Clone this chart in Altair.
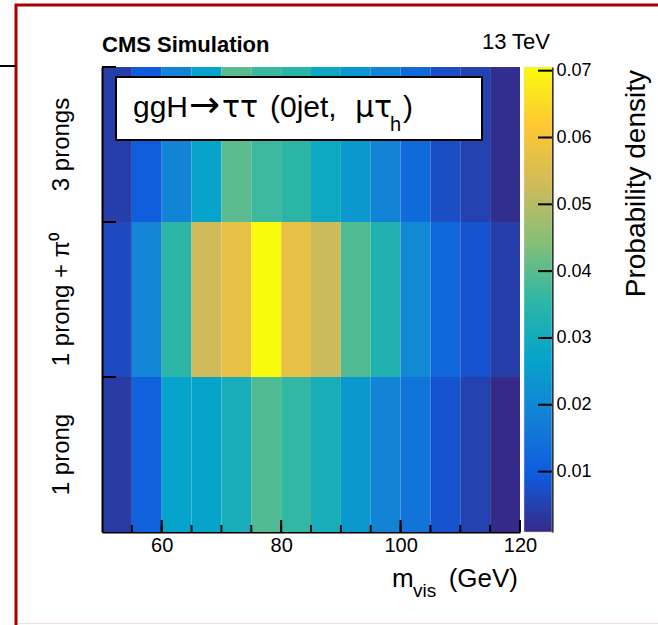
import altair as alt
import pandas as pd

# Visible-mass bins (GeV): lower edges, 5 GeV wide
m_lo = [50, 55, 60, 65, 70, 75, 80, 85, 90, 95, 100, 105, 110, 115]
bin_width = 5

# Tau decay modes (top to bottom)
rows = ["3 prongs", "1 prong + π⁰", "1 prong"]

# Probability density per bin and decay mode
dens_3prong = [0.0044, 0.0100, 0.0190, 0.0270, 0.0400, 0.0370, 0.0350,
               0.0290, 0.0240, 0.0190, 0.0130, 0.0072, 0.0050, 0.0017]
dens_1prong_pi0 = [0.0065, 0.0195, 0.0355, 0.0530, 0.0575, 0.0705, 0.0575,
                   0.0525, 0.0390, 0.0330, 0.0205, 0.0120, 0.0080, 0.0045]
dens_1prong = [0.0040, 0.0110, 0.0270, 0.0270, 0.0310, 0.0390, 0.0360,
               0.0310, 0.0240, 0.0190, 0.0150, 0.0080, 0.0050, 0.0010]

# Colour axis range and ticks
z_min, z_max = 0.00096, 0.07055
z_ticks = [0.01, 0.02, 0.03, 0.04, 0.05, 0.06, 0.07]

# Axis tick positions
x_labels = [60, 80, 100, 120]
x_minor = [55, 60, 65, 70, 75, 80, 85, 90, 95, 100, 105, 110, 115]
x_major = [60, 80, 100, 120]

# ROOT "bird" palette
palette = ["#352a87", "#0f5cdd", "#1481d6", "#06a4ca", "#2eb7a4",
           "#87bf77", "#d1bb59", "#fec832", "#f9fb0e"]

FONT = "Liberation Sans"
SYM = "DejaVu Sans"
W, H = 418, 465

records = []
for name, vals in zip(rows, [dens_3prong, dens_1prong_pi0, dens_1prong]):
    for lo, v in zip(m_lo, vals):
        records.append({"decay": name, "lo": lo, "hi": lo + bin_width, "p": v})
cells = pd.DataFrame(records)

x_scale = alt.Scale(domain=[50, 120], nice=False, zero=False)
x_axis = alt.Axis(values=x_labels, ticks=False, tickSize=0, labelFontSize=20,
                  labelPadding=3, labelFlush=False, labelFont=FONT,
                  labelColor="black", domainColor="black", domainWidth=2,
                  grid=False, title=None)
y_scale = alt.Scale(domain=rows, paddingInner=0, paddingOuter=0)

heat = alt.Chart(cells).mark_rect().encode(
    x=alt.X("lo:Q", scale=x_scale, axis=x_axis),
    x2="hi:Q",
    y=alt.Y("decay:N", sort=rows, scale=y_scale,
            axis=alt.Axis(orient="left", labelAngle=-90, labelAlign="center",
                          labelBaseline="alphabetic", labelFontSize=24,
                          labelFont=FONT, labelColor="black", labelPadding=34,
                          ticks=False, tickSize=0, domainColor="black",
                          domainWidth=2, title=None, grid=False)),
    color=alt.Color("p:Q", legend=None,
                    scale=alt.Scale(domain=[z_min, z_max], range=palette,
                                    interpolate="rgb")),
)

# Inward tick marks on the y axis at the decay-mode boundaries
y_ticks = alt.Chart(pd.DataFrame({"decay": rows})).mark_rule(
    color="black", strokeWidth=2).encode(
    y=alt.Y("decay:N", sort=rows, scale=y_scale, axis=None, bandPosition=0),
    x=alt.value(0), x2=alt.value(14),
)

# Inward tick marks on the x axis
minor = alt.Chart(pd.DataFrame({"lo": x_minor})).mark_rule(
    color="black", strokeWidth=2).encode(
    x=alt.X("lo:Q", scale=x_scale, axis=x_axis),
    y=alt.value(H), y2=alt.value(H - 7),
)
major = alt.Chart(pd.DataFrame({"lo": x_major})).mark_rule(
    color="black", strokeWidth=2).encode(
    x=alt.X("lo:Q", scale=x_scale, axis=x_axis),
    y=alt.value(H), y2=alt.value(H - 12),
)

# Colour bar
bar = alt.Chart(pd.DataFrame({"k": [0]})).mark_rect(
    fill=alt.Gradient(
        gradient="linear", x1=0, y1=1, x2=0, y2=0,
        stops=[alt.GradientStop(color=c, offset=i / (len(palette) - 1))
               for i, c in enumerate(palette)]),
    stroke="#d8d8d8", strokeWidth=0.5,
).encode(x=alt.value(422), x2=alt.value(450), y=alt.value(0), y2=alt.value(H))

bar_ticks = alt.Chart(pd.DataFrame({"z": z_ticks})).mark_rule(
    color="black", strokeWidth=2).encode(
    y=alt.Y("z:Q", scale=alt.Scale(domain=[z_min, z_max], nice=False, zero=False),
            axis=alt.Axis(orient="right", offset=32, values=z_ticks, format=".2f",
                          ticks=False, tickSize=0, labelFontSize=18, labelFont=FONT,
                          labelColor="black", labelPadding=4, labelFlush=False,
                          domainColor="black", domainWidth=2, grid=False,
                          title=None)),
    x=alt.value(436), x2=alt.value(450),
)


def text(t, x, y, size, font=FONT, **kw):
    return alt.Chart(pd.DataFrame({"t": [t]})).mark_text(
        font=font, fontSize=size, color="black", baseline="alphabetic",
        align=kw.pop("align", "left"), **kw).encode(
        x=alt.value(x), y=alt.value(y), text="t:N")


# Page frame
frame = alt.Chart(pd.DataFrame({"k": [0]})).mark_rect(
    fillOpacity=0, stroke="#a80000", strokeWidth=3).encode(
    x=alt.value(-86), x2=alt.value(570), y=alt.value(-62), y2=alt.value(560))
frame_stub = alt.Chart(pd.DataFrame({"k": [0]})).mark_rule(
    color="black", strokeWidth=2).encode(
    x=alt.value(-102), x2=alt.value(-86), y=alt.value(-1))
frame_edge = alt.Chart(pd.DataFrame({"k": [0]})).mark_rule(
    color="#f2dcdc", strokeWidth=1).encode(
    x=alt.value(-84), x2=alt.value(556), y=alt.value(556.5))

# Process label box
box = alt.Chart(pd.DataFrame({"k": [0]})).mark_rect(
    fill="white", stroke="black", strokeWidth=2).encode(
    x=alt.value(14), x2=alt.value(380), y=alt.value(10), y2=alt.value(73))

layers = [
    frame, frame_stub, frame_edge, heat, bar, y_ticks, minor, major, bar_ticks, box,
    text("ggH", 31, 50, 30),
    text("→", 87, 50, 37, font=SYM),
    text("ττ", 120, 50, 30, font=SYM),
    text("(0jet,", 168, 50, 30),
    text("μτ", 253, 50, 30, font=SYM),
    text("h", 288, 64, 20),
    text(")", 301, 50, 30),
    text("CMS Simulation", 0, -15, 22, fontWeight="bold"),
    text("13 TeV", 448, -18, 22, align="right"),
    text("m", 290, 520, 26),
    text("vis", 311, 530, 19),
    text("(GeV)", 416, 520, 26, align="right"),
    text("Probability density", 543, 3, 28, angle=270, align="right"),
]

chart = alt.layer(*layers).resolve_scale(y="independent").properties(
    width=W, height=H,
    autosize=alt.AutoSizeParams(type="none"),
    padding={"left": 102, "top": 67, "right": 138, "bottom": 93},
    background="white",
).configure_view(stroke=None)

chart.save("out.html", embed_options={"renderer": "svg", "actions": False})
